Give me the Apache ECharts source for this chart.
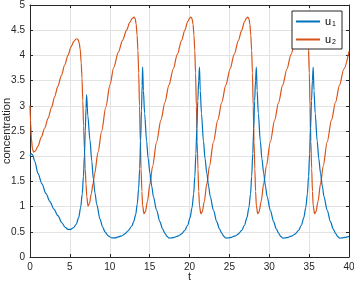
<!DOCTYPE html>
<html>
<head>
<meta charset="utf-8">
<script src="https://cdn.jsdelivr.net/npm/echarts@6/dist/echarts.min.js"></script>
<style>
  html, body { margin: 0; padding: 0; background: #fff; }
  #chart { width: 354px; height: 283px; }
</style>
</head>
<body>
<div id="chart"></div>
<script>
// values
var xTicks = [0, 5, 10, 15, 20, 25, 30, 35, 40];
var yTicks = [0, 0.5, 1, 1.5, 2, 2.5, 3, 3.5, 4, 4.5, 5];

var u1Time = [
    0, 0.15, 0.3, 0.6, 1.0, 1.5, 2.0, 2.5, 3.0, 3.5, 4.0, 4.4, 4.75, 5.1, 5.45, 5.8, 6.1, 6.35, 6.55, 6.7, 6.82, 6.93, 7.02, 7.1,
    7.25, 7.52, 7.75, 7.94, 8.15, 8.36, 8.78, 9.1, 9.4, 9.8, 10.24, 10.7, 11.07, 11.5, 11.9, 12.3, 12.75, 13.0, 13.25, 13.45, 13.62, 13.75, 13.87, 13.98, 14.06, 14.12,
    14.22, 14.37, 14.62, 14.82, 15.04, 15.27, 15.47, 15.87, 16.29, 16.62, 16.92, 17.17, 17.42, 17.72, 18.12, 18.62, 19.02, 19.42, 19.77, 20.07, 20.32, 20.52, 20.67, 20.8, 20.92, 21.04, 21.15, 21.25,
    21.35, 21.5, 21.75, 21.95, 22.17, 22.4, 22.6, 23.0, 23.42, 23.75, 24.05, 24.3, 24.55, 24.85, 25.25, 25.75, 26.15, 26.55, 26.9, 27.2, 27.45, 27.65, 27.8, 27.93, 28.05, 28.17, 28.28, 28.38,
    28.48, 28.63, 28.88, 29.08, 29.3, 29.53, 29.73, 30.13, 30.55, 30.88, 31.18, 31.43, 31.68, 31.98, 32.38, 32.88, 33.28, 33.68, 34.03, 34.33, 34.58, 34.78, 34.93, 35.06, 35.18, 35.3, 35.41, 35.51,
    35.61, 35.76, 36.01, 36.21, 36.43, 36.66, 36.86, 37.26, 37.68, 38.01, 38.31, 38.56, 38.81, 39.11, 39.51, 40
];
var u1Value = [
    2.0, 2.05, 2.03, 1.9, 1.66, 1.45, 1.26, 1.1, 0.95, 0.82, 0.68, 0.59, 0.55, 0.55, 0.58, 0.65, 0.78, 0.98, 1.25, 1.6, 2.0, 2.5, 2.95, 3.22,
    2.8, 2.32, 1.9, 1.55, 1.27, 1.05, 0.75, 0.6, 0.5, 0.42, 0.38, 0.38, 0.40, 0.42, 0.46, 0.52, 0.61, 0.7, 0.84, 1.05, 1.35, 1.75, 2.3, 2.9, 3.4, 3.77,
    3.3, 2.85, 2.3, 1.95, 1.66, 1.4, 1.2, 0.93, 0.70, 0.56, 0.47, 0.41, 0.375, 0.378, 0.39, 0.42, 0.46, 0.53, 0.63, 0.78, 0.98, 1.25, 1.6, 2.05, 2.55, 3.1, 3.5, 3.77,
    3.3, 2.85, 2.3, 1.95, 1.66, 1.4, 1.2, 0.93, 0.70, 0.56, 0.47, 0.41, 0.375, 0.378, 0.39, 0.42, 0.46, 0.53, 0.63, 0.78, 0.98, 1.25, 1.6, 2.05, 2.55, 3.1, 3.5, 3.77,
    3.3, 2.85, 2.3, 1.95, 1.66, 1.4, 1.2, 0.93, 0.70, 0.56, 0.47, 0.41, 0.375, 0.378, 0.39, 0.42, 0.46, 0.53, 0.63, 0.78, 0.98, 1.25, 1.6, 2.05, 2.55, 3.1, 3.5, 3.77,
    3.3, 2.85, 2.3, 1.95, 1.66, 1.4, 1.2, 0.93, 0.70, 0.56, 0.47, 0.41, 0.375, 0.378, 0.39, 0.41
];

var u2Time = [
    0, 0.08, 0.18, 0.3, 0.45, 0.65, 1.0, 1.42, 1.85, 2.26, 2.7, 3.09, 3.5, 3.93, 4.35, 4.76, 5.15, 5.5, 5.8, 6.0, 6.15, 6.3, 6.42, 6.52, 6.62, 6.72, 6.82, 6.92, 7.02, 7.12,
    7.27, 7.45, 7.69, 7.9, 8.1, 8.53, 8.99, 9.5, 10.03, 10.5, 11.07, 11.6, 12.12, 12.5, 12.8, 13.04, 13.19, 13.31, 13.43, 13.53, 13.63, 13.73, 13.83, 13.93, 14.03, 14.12,
    14.29, 14.47, 14.72, 15.04, 15.37, 15.87, 16.42, 16.92, 17.42, 17.96, 18.47, 19.01, 19.42, 19.77, 20.02, 20.17, 20.32, 20.44, 20.56, 20.66, 20.76, 20.86, 20.96, 21.06, 21.16, 21.25,
    21.42, 21.6, 21.85, 22.17, 22.5, 23.0, 23.55, 24.05, 24.55, 25.09, 25.6, 26.14, 26.55, 26.9, 27.15, 27.3, 27.45, 27.57, 27.69, 27.79, 27.89, 27.99, 28.09, 28.19, 28.29, 28.38,
    28.55, 28.73, 28.98, 29.3, 29.63, 30.13, 30.68, 31.18, 31.68, 32.22, 32.73, 33.27, 33.68, 34.03, 34.28, 34.43, 34.58, 34.7, 34.82, 34.92, 35.02, 35.12, 35.22, 35.32, 35.42, 35.51,
    35.68, 35.86, 36.11, 36.43, 36.76, 37.26, 37.81, 38.31, 38.81, 39.35, 40
];
var u2Value = [
    3.0, 2.65, 2.35, 2.15, 2.08, 2.1, 2.2, 2.38, 2.56, 2.75, 2.97, 3.18, 3.39, 3.6, 3.81, 4.0, 4.17, 4.28, 4.33, 4.32, 4.26, 4.12, 3.85, 3.55, 3.1, 2.6, 2.15, 1.75, 1.45, 1.2,
    1.01, 1.06, 1.26, 1.45, 1.65, 2.08, 2.5, 2.97, 3.42, 3.76, 4.06, 4.3, 4.5, 4.65, 4.73, 4.76, 4.73, 4.62, 4.4, 4.1, 3.65, 3.0, 2.3, 1.75, 1.3, 1.02,
    0.86, 0.9, 1.1, 1.45, 1.8, 2.28, 2.72, 3.07, 3.41, 3.73, 4.02, 4.3, 4.5, 4.67, 4.74, 4.76, 4.73, 4.62, 4.4, 4.1, 3.65, 3.0, 2.3, 1.75, 1.3, 1.02,
    0.86, 0.9, 1.1, 1.45, 1.8, 2.28, 2.72, 3.07, 3.41, 3.73, 4.02, 4.3, 4.5, 4.67, 4.74, 4.76, 4.73, 4.62, 4.4, 4.1, 3.65, 3.0, 2.3, 1.75, 1.3, 1.02,
    0.86, 0.9, 1.1, 1.45, 1.8, 2.28, 2.72, 3.07, 3.41, 3.73, 4.02, 4.3, 4.5, 4.67, 4.74, 4.76, 4.73, 4.62, 4.4, 4.1, 3.65, 3.0, 2.3, 1.75, 1.3, 1.02,
    0.86, 0.9, 1.1, 1.45, 1.8, 2.28, 2.72, 3.07, 3.41, 3.73, 4.08
];

function pairs(t, v) {
    return t.map(function(x, i) { return [x, v[i]]; });
}

var FONT = 'Liberation Sans';
var INK = '#262626';

var chart = echarts.init(document.getElementById('chart'), null, { renderer: 'canvas' });

function xAxisOf(pos, shown) {
    return {
        type: 'value', position: pos,
        min: xTicks[0], max: xTicks[xTicks.length - 1], interval: 5,
        name: shown ? 't' : '', nameLocation: 'middle', nameGap: 14, nameMoveOverlap: false,
        nameTextStyle: { fontFamily: FONT, fontSize: 11, color: INK },
        axisLine: { show: true, onZero: false, lineStyle: { color: INK, width: 1 } },
        axisTick: { show: true, inside: true, length: 3, lineStyle: { color: INK } },
        axisLabel: { show: shown, fontFamily: FONT, fontSize: 10, color: INK, margin: 5 },
        splitLine: { show: shown, lineStyle: { color: '#e3e3e3', width: 1 } }
    };
}
function yAxisOf(pos, shown) {
    return {
        type: 'value', position: pos,
        min: yTicks[0], max: yTicks[yTicks.length - 1], interval: 0.5,
        name: shown ? 'concentration' : '', nameLocation: 'middle', nameGap: 18, nameRotate: 90, nameMoveOverlap: false,
        nameTextStyle: { fontFamily: FONT, fontSize: 11, color: INK },
        axisLine: { show: true, onZero: false, lineStyle: { color: INK, width: 1 } },
        axisTick: { show: true, inside: true, length: 3, lineStyle: { color: INK } },
        axisLabel: { show: shown, fontFamily: FONT, fontSize: 10, color: INK, margin: 5 },
        splitLine: { show: shown, lineStyle: { color: '#e3e3e3', width: 1 } }
    };
}

chart.setOption({
    animation: false,
    backgroundColor: '#fff',
    grid: { left: 30, right: 5, top: 5, bottom: 26, containLabel: false, outerBoundsMode: 'none' },
    xAxis: [xAxisOf('bottom', true), xAxisOf('top', false)],
    yAxis: [yAxisOf('left', true), yAxisOf('right', false)],
    legend: {
        orient: 'vertical',
        right: 12, top: 11,
        itemWidth: 24, itemHeight: 2, itemGap: 6,
        icon: 'rect',
        padding: [5, 6, 3, 4],
        borderColor: INK, borderWidth: 1, borderRadius: 0,
        backgroundColor: '#fff',
        data: ['u1', 'u2'],
        formatter: function(name) { return 'u{sub|' + name.slice(1) + '}'; },
        textStyle: {
            fontFamily: FONT, fontSize: 11, color: '#000',
            rich: { sub: { fontFamily: FONT, fontSize: 7, color: '#000', padding: [6, 0, 0, 1] } }
        }
    },
    series: [{
        name: 'u1', type: 'line', data: pairs(u1Time, u1Value),
        showSymbol: false, symbol: 'none', smooth: 0.3, smoothMonotone: 'x',
        color: '#0072BD', lineStyle: { width: 1.2 }, z: 3
    }, {
        name: 'u2', type: 'line', data: pairs(u2Time, u2Value),
        showSymbol: false, symbol: 'none', smooth: 0.3, smoothMonotone: 'x',
        color: '#D95319', lineStyle: { width: 1.2 }, z: 2
    }]
});
</script>
</body>
</html>
